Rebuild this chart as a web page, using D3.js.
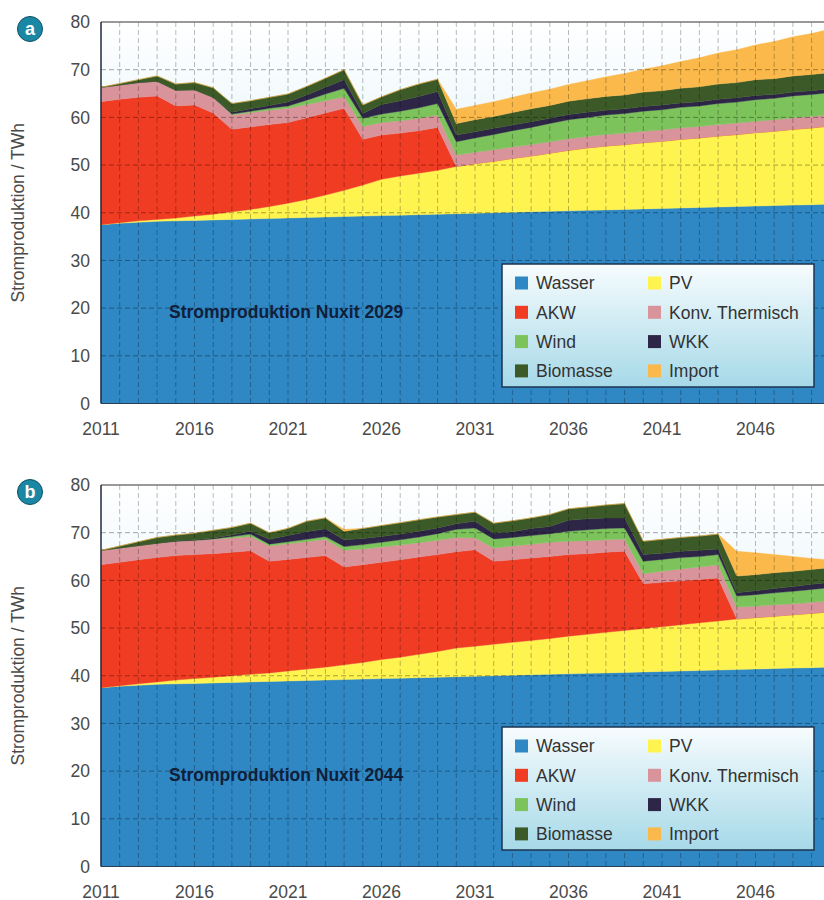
<!DOCTYPE html>
<html>
<head>
<meta charset="utf-8">
<script src="https://cdn.jsdelivr.net/npm/d3@7"></script>
<style>
  body { margin: 0; background: #fff; }
  svg { display: block; font-family: "Liberation Sans", Arial, sans-serif; }
</style>
</head>
<body>
<div id="chart"></div>
<script>
// Stromproduktion / TWh, years 2011..2050
var years = d3.range(2011, 2051);
var keys = ["Wasser", "PV", "AKW", "Konv. Thermisch", "Wind", "WKK", "Biomasse", "Import"];
var legendOrder = ["Wasser", "AKW", "Wind", "Biomasse", "PV", "Konv. Thermisch", "WKK", "Import"];
var colors = ["#2f87c4", "#fff350", "#f03c23", "#d9939b", "#7dc35b", "#2d2646", "#3c5a27", "#fbb94b"];
var yTicks = [0, 10, 20, 30, 40, 50, 60, 70, 80];
var xTicks = [2011, 2016, 2021, 2026, 2031, 2036, 2041, 2046];

// common to both scenarios
var wasser = [37.5,37.8,38.0,38.2,38.3,38.4,38.5,38.6,38.7,38.8,38.9,39.0,39.1,39.2,39.3,39.4,39.5,39.6,39.7,39.8,
              39.9,40.0,40.1,40.2,40.3,40.4,40.5,40.6,40.7,40.8,40.9,41.0,41.1,41.2,41.3,41.4,41.5,41.6,41.7,41.8];

// a) Nuxit 2029
var pvA = [0,0.1,0.3,0.4,0.6,0.9,1.2,1.6,2.0,2.5,3.1,3.8,4.6,5.5,6.5,7.6,8.2,8.7,9.2,9.9,
           10.4,10.8,11.3,11.7,12.2,12.7,13.1,13.4,13.6,13.9,14.1,14.4,14.6,14.9,15.1,15.4,15.6,15.9,16.1,16.4];
var akwA = [25.8,25.9,25.9,25.9,23.5,23.3,21.2,17.3,17.3,17.2,16.9,17.1,17.2,17.2,9.6,9.3,9.0,8.9,9.0,0,
            0,0,0,0,0,0,0,0,0,0,0,0,0,0,0,0,0,0,0,0];
var konvA = [3.0,3.0,3.1,3.1,3.3,3.2,3.3,3.0,3.0,3.0,3.0,2.8,2.6,2.4,2.7,2.6,2.6,2.6,2.6,2.4,
             2.4,2.4,2.4,2.4,2.4,2.4,2.4,2.4,2.4,2.4,2.4,2.4,2.4,2.4,2.4,2.4,2.4,2.4,2.4,2.4];
var windA = [0,0,0,0,0,0,0,0.2,0.3,0.4,0.5,0.9,1.4,1.8,1.7,1.8,2.0,2.2,2.4,2.8,
             3.0,3.2,3.4,3.6,3.8,4.0,4.0,4.1,4.1,4.2,4.2,4.3,4.3,4.4,4.4,4.5,4.5,4.6,4.6,4.6];
var wkkA = [0,0,0,0,0,0,0,0.4,0.5,0.6,0.8,1.1,1.4,1.8,1.0,2.0,2.2,2.4,2.5,1.4,
            1.3,1.3,1.2,1.2,1.1,1.1,1.1,1.0,1.0,1.0,1.0,0.9,0.9,0.9,0.9,0.9,0.8,0.8,0.8,0.8];
var bioA = [0,0.3,0.6,1.1,1.3,1.5,2.0,1.8,1.7,1.7,1.7,1.8,1.9,2.1,1.8,1.6,2.3,2.6,2.6,2.4,
            2.5,2.5,2.6,2.7,2.7,2.8,2.8,2.9,2.9,3.0,3.0,3.1,3.1,3.2,3.2,3.3,3.3,3.4,3.4,3.4];
var importA = [0,0,0,0,0,0,0,0,0,0,0,0,0,0,0,0,0,0,0,3.0,
               3.0,3.1,3.2,3.3,3.4,3.5,3.8,4.1,4.5,4.8,5.2,5.6,6.1,6.5,6.9,7.3,7.8,8.2,8.6,9.1];

// b) Nuxit 2044
var pvB = [0,0.1,0.3,0.5,0.8,1.0,1.2,1.4,1.6,1.8,2.1,2.4,2.7,3.1,3.5,4.0,4.4,4.9,5.4,6.0,
           6.3,6.6,6.9,7.2,7.5,7.9,8.2,8.5,8.8,9.1,9.4,9.7,10.0,10.3,10.6,10.8,11.0,11.2,11.4,11.6];
var akwB = [25.8,25.9,26.0,26.1,26.1,26.0,25.9,25.9,25.9,23.4,23.4,23.4,23.4,20.5,20.5,20.4,20.4,20.4,20.3,20.2,
            20.2,17.4,17.3,17.3,17.2,17.1,16.9,16.8,16.6,9.4,9.3,9.2,9.1,9.0,0,0,0,0,0,0];
var konvB = [3.0,3.0,3.0,3.0,3.0,3.0,3.0,3.0,3.0,3.2,3.3,3.3,3.4,3.5,3.3,3.2,3.1,3.0,3.0,3.0,
             2.5,2.8,2.9,2.9,3.0,2.8,2.7,2.6,2.6,2.1,2.3,2.5,2.6,2.8,2.5,2.4,2.4,2.3,2.3,2.3];
var windB = [0,0,0,0,0,0,0.1,0.3,0.5,0.4,0.4,0.5,0.6,0.8,0.9,1.0,1.1,1.2,1.4,1.7,
             2.1,1.9,1.8,1.8,1.8,2.1,2.3,2.4,2.3,2.6,2.5,2.4,2.2,2.1,2.3,2.4,2.5,2.6,2.7,2.8];
var wkkB = [0,0,0,0,0.1,0.1,0.2,0.3,0.6,1.0,1.3,1.6,1.6,1.4,1.3,1.2,1.2,1.2,1.2,1.2,
            1.4,1.2,1.2,1.5,1.5,2.3,2.3,2.2,2.1,1.4,1.3,1.3,1.3,1.2,0.7,0.8,0.9,1.0,1.1,1.1];
var bioB = [0,0.4,0.8,1.2,1.2,1.4,1.6,1.6,1.7,1.4,1.5,2.2,2.3,1.8,2.1,2.3,2.4,2.4,2.3,1.9,
            1.9,2.1,2.3,2.2,2.5,2.4,2.5,2.7,3.0,2.8,2.9,2.9,3.0,3.1,3.5,3.4,3.3,3.2,3.1,3.1];
var importB = [0,0,0,0,0,0,0,0,0,0,0,0,0,0.4,0,0,0,0,0,0,
               0,0,0,0,0,0,0,0,0,0,0,0,0,0,5.2,4.6,3.8,3.1,2.3,1.6];

var panels = [
  {letter: "a", top: 22, title: "Stromproduktion Nuxit 2029",
   series: [wasser, pvA, akwA, konvA, windA, wkkA, bioA, importA]},
  {letter: "b", top: 485, title: "Stromproduktion Nuxit 2044",
   series: [wasser, pvB, akwB, konvB, windB, wkkB, bioB, importB]}
];

var W = 824, H = 900;
var left = 101, plotH = 381.5, yearW = 18.7;
var right = left + (years.length - 1) * yearW;

var svg = d3.select("#chart").append("svg")
    .attr("width", W).attr("height", H);

var defs = svg.append("defs");
var bg = defs.append("linearGradient").attr("id", "bgGrad")
    .attr("x1", 0).attr("y1", 0).attr("x2", 0).attr("y2", 1);
bg.append("stop").attr("offset", "0%").attr("stop-color", "#ffffff");
bg.append("stop").attr("offset", "45%").attr("stop-color", "#e3f4fa");
var lg = defs.append("linearGradient").attr("id", "legGrad")
    .attr("x1", 0).attr("y1", 0).attr("x2", 0).attr("y2", 1);
lg.append("stop").attr("offset", "0%").attr("stop-color", "#f7fcfe");
lg.append("stop").attr("offset", "100%").attr("stop-color", "#a6d9e8");

var color = d3.scaleOrdinal().domain(keys).range(colors);

panels.forEach(function (p) {
  var rows = years.map(function (yr, i) {
    var r = {year: yr};
    keys.forEach(function (k, j) { r[k] = p.series[j][i]; });
    return r;
  });

  var x = d3.scaleLinear().domain([2011, 2050]).range([left, right]);
  var y = d3.scaleLinear().domain([0, 80]).range([p.top + plotH, p.top]);

  var stacked = d3.stack().keys(keys)(rows);

  var g = svg.append("g");

  // plot background
  g.append("rect")
      .attr("x", left).attr("y", p.top)
      .attr("width", right - left).attr("height", plotH)
      .attr("fill", "url(#bgGrad)");

  var area = d3.area()
      .x(function (d) { return x(d.data.year); })
      .y0(function (d) { return y(d[0]); })
      .y1(function (d) { return y(d[1]); });

  g.append("g").selectAll("path")
      .data(stacked)
      .enter().append("path")
      .attr("fill", function (d) { return color(d.key); })
      .attr("stroke", function (d) { return color(d.key); })
      .attr("stroke-width", 0.4)
      .attr("d", area);

  // dashed grid on top of areas
  g.append("g").selectAll("line")
      .data(years.slice(1))
      .enter().append("line")
      .attr("x1", function (d) { return x(d); }).attr("x2", function (d) { return x(d); })
      .attr("y1", p.top).attr("y2", p.top + plotH)
      .attr("stroke", "#000").attr("stroke-opacity", 0.27)
      .attr("stroke-dasharray", "5,3");
  g.append("g").selectAll("line")
      .data(yTicks.slice(1, -1))
      .enter().append("line")
      .attr("x1", left).attr("x2", W)
      .attr("y1", function (d) { return y(d); }).attr("y2", function (d) { return y(d); })
      .attr("stroke", "#000").attr("stroke-opacity", 0.35)
      .attr("stroke-dasharray", "5,3");

  // frame
  g.append("line").attr("x1", left).attr("x2", W).attr("y1", p.top).attr("y2", p.top)
      .attr("stroke", "#777").attr("stroke-width", 1.5);
  g.append("line").attr("x1", left).attr("x2", W).attr("y1", p.top + plotH).attr("y2", p.top + plotH)
      .attr("stroke", "#2a3f55").attr("stroke-width", 1.2);
  g.append("line").attr("x1", left).attr("x2", left).attr("y1", p.top).attr("y2", p.top + plotH)
      .attr("stroke", "#1e2c3c").attr("stroke-width", 1.5);

  // axes labels
  g.append("g").selectAll("text")
      .data(yTicks)
      .enter().append("text")
      .attr("x", 90).attr("y", function (d) { return y(d); })
      .attr("dy", "0.36em")
      .attr("text-anchor", "end")
      .attr("font-size", 17.5).attr("fill", "#4a4a4a")
      .text(function (d) { return d; });
  g.append("g").selectAll("text")
      .data(xTicks)
      .enter().append("text")
      .attr("x", function (d) { return x(d); })
      .attr("y", p.top + plotH + 31)
      .attr("text-anchor", "middle")
      .attr("font-size", 17.5).attr("fill", "#4a4a4a")
      .text(function (d) { return d; });

  g.append("text")
      .attr("transform", "translate(24," + (p.top + plotH / 2) + ") rotate(-90)")
      .attr("text-anchor", "middle")
      .attr("font-size", 17.5).attr("fill", "#4a4a4a")
      .text("Stromproduktion / TWh");

  // panel letter
  g.append("circle").attr("cx", 30).attr("cy", p.top + 7).attr("r", 12.5)
      .attr("fill", "#1a88a5").attr("stroke", "#0f4f63").attr("stroke-width", 1);
  g.append("text").attr("x", 30).attr("y", p.top + 7).attr("dy", "0.36em")
      .attr("text-anchor", "middle").attr("font-size", 18).attr("font-weight", "bold")
      .attr("fill", "#fff").text(p.letter);

  // scenario title
  g.append("text")
      .attr("x", 169).attr("y", p.top + 290).attr("dy", "0.35em")
      .attr("font-size", 17.5).attr("font-weight", "bold").attr("fill", "#10203a")
      .text(p.title);

  // legend
  var lx = 502, ly = p.top + 242;
  var leg = g.append("g").attr("transform", "translate(" + lx + "," + ly + ")");
  leg.append("rect").attr("width", 312).attr("height", 123)
      .attr("fill", "url(#legGrad)").attr("stroke", "#1d3550").attr("stroke-width", 1.5);
  var item = leg.selectAll("g.item")
      .data(legendOrder)
      .enter().append("g")
      .attr("class", "item")
      .attr("transform", function (d, i) {
        return "translate(" + (i < 4 ? 13 : 146) + "," + (19 + (i % 4) * 29.3) + ")";
      });
  item.append("rect").attr("x", 0).attr("y", -6.5).attr("width", 13).attr("height", 13)
      .attr("fill", function (d) { return color(d); });
  item.append("text").attr("x", 21).attr("y", 0).attr("dy", "0.36em")
      .attr("font-size", 17.5).attr("fill", "#333")
      .text(function (d) { return d; });
});
</script>
</body>
</html>
